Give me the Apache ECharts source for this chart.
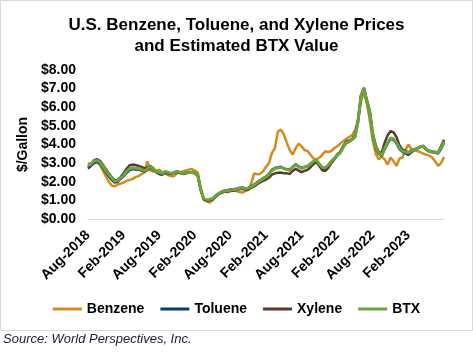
<!DOCTYPE html>
<html>
<head>
<meta charset="utf-8">
<script src="https://cdn.jsdelivr.net/npm/echarts@6/dist/echarts.min.js"></script>
<style>
  html, body { margin: 0; padding: 0; background: #fff; }
  #main { width: 473px; height: 354px; }
</style>
</head>
<body>
<div id="main"></div>
<script>
// half-month points, Aug-2018 .. Aug-2023 (one row = 6 months)
var benzene = [
    3.0, 2.95, 3.0, 3.05, 2.9, 2.6, 2.3, 2.0, 1.8, 1.75, 1.85, 1.9,
    1.95, 2.05, 2.1, 2.15, 2.25, 2.3, 2.4, 2.5, 3.1, 2.6, 2.55, 2.6,
    2.65, 2.5, 2.45, 2.35, 2.3, 2.3, 2.45, 2.5, 2.56, 2.6, 2.65, 2.68,
    2.6, 2.5, 1.6, 1.05, 0.95, 0.88, 1.0, 1.2, 1.35, 1.4, 1.5, 1.55,
    1.6, 1.55, 1.5, 1.45, 1.42, 1.5, 1.57, 1.9, 2.45, 2.4, 2.42, 2.56,
    2.8, 3.0, 3.55, 3.8, 4.7, 4.8, 4.55, 4.1, 3.7, 3.46, 3.8, 4.05,
    3.9, 3.7, 3.65, 3.45, 3.25, 3.19, 3.3, 3.45, 3.64, 3.6, 3.65, 3.8,
    3.9, 4.05, 4.18, 4.3, 4.4, 4.5, 4.75, 5.3, 6.3, 6.85, 6.2, 5.3,
    4.2, 3.5, 3.2, 3.35, 3.2, 2.92, 3.3, 3.1, 2.85, 3.25, 3.3, 3.7,
    4.0, 3.75, 3.7, 3.64, 3.6, 3.5, 3.46, 3.4, 3.3, 3.1, 2.86, 3.0,
    3.33
];
var toluene = [
    2.7, 2.85, 3.0, 3.08, 2.98, 2.78, 2.52, 2.3, 2.1, 1.95, 2.0, 2.15,
    2.3, 2.48, 2.62, 2.68, 2.66, 2.65, 2.6, 2.55, 2.62, 2.78, 2.65, 2.5,
    2.42, 2.38, 2.48, 2.45, 2.42, 2.47, 2.52, 2.47, 2.42, 2.45, 2.48, 2.48,
    2.46, 2.32, 1.55, 1.05, 0.98, 1.0, 1.08, 1.22, 1.36, 1.44, 1.52, 1.52,
    1.57, 1.6, 1.62, 1.66, 1.7, 1.64, 1.66, 1.76, 1.84, 1.97, 2.08, 2.18,
    2.28, 2.42, 2.64, 2.74, 2.78, 2.8, 2.72, 2.67, 2.64, 2.8, 2.94, 2.82,
    2.74, 2.8, 2.84, 2.96, 3.08, 3.12, 2.9, 2.72, 2.7, 2.86, 3.08, 3.25,
    3.46, 3.6, 3.92, 4.15, 4.2, 4.28, 4.42, 5.2, 6.6, 7.0, 6.3, 5.65,
    4.45, 3.8, 3.5, 3.38, 3.75, 4.05, 4.3, 4.25, 4.05, 3.75, 3.6, 3.52,
    3.45, 3.58, 3.7, 3.78, 3.86, 3.9, 3.72, 3.62, 3.58, 3.56, 3.52, 3.76,
    4.1
];
var xylene = [
    2.8, 2.95, 3.15, 3.22, 3.12, 2.92, 2.68, 2.45, 2.25, 2.08, 2.1, 2.25,
    2.45, 2.7, 2.88, 2.92, 2.9, 2.85, 2.8, 2.72, 2.75, 2.85, 2.72, 2.55,
    2.48, 2.42, 2.52, 2.48, 2.45, 2.5, 2.55, 2.5, 2.45, 2.48, 2.5, 2.5,
    2.47, 2.33, 1.58, 1.08, 1.0, 1.02, 1.06, 1.2, 1.33, 1.4, 1.47, 1.45,
    1.5, 1.52, 1.55, 1.6, 1.62, 1.56, 1.58, 1.68, 1.75, 1.87, 1.96, 2.05,
    2.12, 2.22, 2.38, 2.45, 2.48, 2.5, 2.45, 2.45, 2.42, 2.58, 2.7, 2.6,
    2.52, 2.58, 2.64, 2.78, 2.95, 3.05, 2.85, 2.62, 2.58, 2.75, 3.0, 3.2,
    3.4, 3.55, 3.85, 4.08, 4.15, 4.3, 4.5, 5.3, 6.6, 7.05, 6.4, 5.8,
    4.6, 3.95, 3.6, 3.55, 4.1, 4.5, 4.72, 4.65, 4.4, 3.95, 3.72, 3.65,
    3.58, 3.68, 3.74, 3.8, 3.88, 3.92, 3.76, 3.66, 3.62, 3.6, 3.58, 3.9,
    4.25
];
var btx = [
    2.85, 2.95, 3.1, 3.15, 3.05, 2.85, 2.6, 2.4, 2.2, 2.02, 2.05, 2.2,
    2.35, 2.55, 2.7, 2.75, 2.72, 2.7, 2.65, 2.6, 2.68, 2.83, 2.7, 2.55,
    2.5, 2.45, 2.55, 2.5, 2.45, 2.5, 2.55, 2.5, 2.45, 2.48, 2.5, 2.5,
    2.48, 2.35, 1.6, 1.1, 1.02, 1.05, 1.1, 1.25, 1.38, 1.45, 1.52, 1.5,
    1.55, 1.58, 1.6, 1.65, 1.68, 1.62, 1.65, 1.75, 1.82, 1.95, 2.05, 2.15,
    2.25, 2.38, 2.6, 2.7, 2.75, 2.78, 2.7, 2.65, 2.62, 2.78, 2.92, 2.8,
    2.72, 2.78, 2.83, 2.95, 3.1, 3.18, 2.95, 2.78, 2.75, 2.9, 3.1, 3.25,
    3.42, 3.55, 3.85, 4.1, 4.15, 4.25, 4.4, 5.2, 6.6, 7.0, 6.3, 5.7,
    4.5, 3.85, 3.55, 3.42, 3.8, 4.1, 4.35, 4.3, 4.1, 3.8, 3.65, 3.6,
    3.55, 3.65, 3.72, 3.8, 3.88, 3.92, 3.75, 3.65, 3.6, 3.58, 3.55, 3.8,
    4.15
];
var tickLabels = ['Aug-2018', 'Feb-2019', 'Aug-2019', 'Feb-2020', 'Aug-2020',
    'Feb-2021', 'Aug-2021', 'Feb-2022', 'Aug-2022', 'Feb-2023'];

var monthNames = ['Jan', 'Feb', 'Mar', 'Apr', 'May', 'Jun', 'Jul', 'Aug', 'Sep', 'Oct', 'Nov', 'Dec'];
var categories = [];
for (var m = 0; m <= 60; m++) {
    var lab = monthNames[(7 + m) % 12] + '-' + (2018 + Math.floor((7 + m) / 12));
    categories.push(lab);
    if (m < 60) categories.push(lab + ' 15');
}

var myChart = echarts.init(document.getElementById('main'));
var font = 'Liberation Sans, Arial, sans-serif';

function line(name, data, color, width) {
    return {
        name: name,
        type: 'line',
        data: data,
        symbol: 'none',
        smooth: false,
        lineStyle: { color: color, width: width },
        itemStyle: { color: color }
    };
}

var option = {
    animation: false,
    textStyle: { fontFamily: font },
    title: {
        text: 'U.S. Benzene, Toluene, and Xylene Prices\nand Estimated BTX Value',
        left: 'center',
        top: 10,
        textStyle: { fontFamily: font, fontSize: 17, fontWeight: 'bold', color: '#000', lineHeight: 21 }
    },
    legend: {
        top: 297,
        left: 'center',
        icon: 'rect',
        itemWidth: 29,
        itemHeight: 3,
        itemGap: 16,
        textStyle: { fontFamily: font, fontSize: 14, fontWeight: 'bold', color: '#000' },
        data: ['Benzene', 'Toluene', 'Xylene', 'BTX']
    },
    grid: { left: 88, right: 29, top: 70, bottom: 135 },
    xAxis: {
        type: 'category',
        data: categories,
        boundaryGap: false,
        axisLine: { lineStyle: { color: '#d9d9d9', width: 1 } },
        axisTick: { show: false },
        axisLabel: {
            rotate: 45,
            margin: 14,
            color: '#000',
            fontFamily: font,
            fontSize: 14,
            fontWeight: 'bold',
            interval: function (idx) { return idx % 12 === 0 && idx < 120; },
            formatter: function (v, idx) { return tickLabels[idx / 12] || ''; }
        },
        splitLine: { show: false }
    },
    yAxis: {
        type: 'value',
        min: 0,
        max: 8,
        interval: 1,
        name: '$/Gallon',
        nameLocation: 'middle',
        nameGap: 40,
        nameTextStyle: { fontFamily: font, fontSize: 14, fontWeight: 'bold', color: '#000' },
        axisLine: { show: false },
        axisTick: { show: false },
        splitLine: { show: false },
        axisLabel: {
            margin: 12,
            color: '#000',
            fontFamily: font,
            fontSize: 14,
            fontWeight: 'bold',
            formatter: function (v) { return '$' + v.toFixed(2); }
        }
    },
    graphic: [
        {
            type: 'rect',
            shape: { x: 0.5, y: 0.5, width: 472, height: 330 },
            style: { fill: 'none', stroke: '#d9d9d9', lineWidth: 1 },
            silent: true
        },
        {
            type: 'text',
            left: 3,
            top: 333,
            style: {
                text: 'Source: World Perspectives, Inc.',
                fontFamily: font,
                fontSize: 13,
                fontStyle: 'italic',
                fill: '#1b1b3a'
            }
        }
    ],
    series: [
        line('Benzene', benzene, '#d68a1c', 2.5),
        line('Toluene', toluene, '#063d78', 2.5),
        line('Xylene', xylene, '#5b3b2b', 2.5),
        line('BTX', btx, '#6aa53d', 3)
    ]
};
myChart.setOption(option);
</script>
</body>
</html>
